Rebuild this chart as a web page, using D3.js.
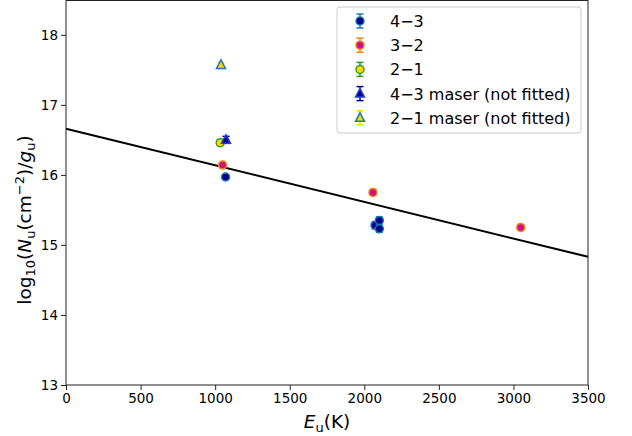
<!DOCTYPE html>
<html>
<head>
<meta charset="utf-8">
<script src="https://cdn.jsdelivr.net/npm/d3@7"></script>
<style>
  body { margin: 0; background: #fff; }
  text { font-family: "DejaVu Sans", sans-serif; }
</style>
</head>
<body>
<div id="chart"></div>
<script>
// rotational diagram data
var xTicks = [0, 500, 1000, 1500, 2000, 2500, 3000, 3500];
var yTicks = [13, 14, 15, 16, 17, 18];

var e43 = [1070, 2072, 2101, 2101];
var n43 = [15.97, 15.28, 15.35, 15.23];
var err43 = [0.03, 0.05, 0.05, 0.05];

var e32 = [1050, 2058, 3049];
var n32 = [16.14, 15.75, 15.25];
var err32 = [0.04, 0.04, 0.04];

var e21 = [1034];
var n21 = [16.46];
var err21 = [0.04];

var e43m = [1073];
var n43m = [16.50];
var err43m = [0.05];

var e21m = [1039];
var n21m = [17.57];
var err21m = [0.03];

// fitted line end points
var fitE = [0, 3500];
var fitN = [16.66, 14.83];

var svgWidth = 632;
var svgHeight = 436;
var margin = { top: 0.5, right: 44, bottom: 51, left: 66 };
var width = svgWidth - margin.left - margin.right;
var height = svgHeight - margin.top - margin.bottom;

var svg = d3.select("#chart")
  .append("svg")
  .attr("width", svgWidth)
  .attr("height", svgHeight);

var chartGroup = svg.append("g")
  .attr("transform", `translate(${margin.left}, ${margin.top})`);

var xScale = d3.scaleLinear().domain([0, 3500]).range([0, width]);
var yScale = d3.scaleLinear().domain([13, 18.49]).range([height, 0]);

// fit line
var fit = fitE.map((e, i) => [e, fitN[i]]);
chartGroup.append("path")
  .datum(fit)
  .attr("d", d3.line().x(d => xScale(d[0])).y(d => yScale(d[1])))
  .attr("stroke", "#000")
  .attr("stroke-width", 2)
  .attr("fill", "none");

var series = [
  { e: e43, n: n43, err: err43, shape: "circle", face: "#00008b", edge: "#1f77b4", ecol: "#1f77b4", label: "4\u22123" },
  { e: e32, n: n32, err: err32, shape: "circle", face: "#c71585", edge: "#ff7f0e", ecol: "#ff7f0e", label: "3\u22122" },
  { e: e21, n: n21, err: err21, shape: "circle", face: "#ffd700", edge: "#2ca02c", ecol: "#2ca02c", label: "2\u22121" },
  { e: e43m, n: n43m, err: err43m, shape: "triangle", face: "#00008b", edge: "#1f3fd0", ecol: "#00008b", label: "4\u22123 maser (not fitted)" },
  { e: e21m, n: n21m, err: err21m, shape: "triangle", face: "#ffd700", edge: "#1f77b4", ecol: "#ffd700", label: "2\u22121 maser (not fitted)" }
];

function drawMarker(g, x, y, yLo, yHi, s) {
  g.append("line").attr("x1", x).attr("x2", x).attr("y1", yLo).attr("y2", yHi)
    .attr("stroke", s.ecol).attr("stroke-width", 1.5);
  [yLo, yHi].forEach(function(yy) {
    g.append("line").attr("x1", x - 3.5).attr("x2", x + 3.5).attr("y1", yy).attr("y2", yy)
      .attr("stroke", s.ecol).attr("stroke-width", 1.5);
  });
  if (s.shape == "circle") {
    g.append("circle").attr("cx", x).attr("cy", y).attr("r", 4)
      .attr("fill", s.face).attr("stroke", s.edge).attr("stroke-width", 1.5);
  } else {
    var r = 5;
    g.append("path")
      .attr("d", `M${x},${y - r}L${x + r * 0.9},${y + r * 0.7}L${x - r * 0.9},${y + r * 0.7}Z`)
      .attr("fill", s.face).attr("stroke", s.edge).attr("stroke-width", 1.5);
  }
}

series.forEach(function(s) {
  var g = chartGroup.append("g");
  s.e.forEach(function(e, i) {
    drawMarker(g, xScale(e), yScale(s.n[i]), yScale(s.n[i] - s.err[i]), yScale(s.n[i] + s.err[i]), s);
  });
});

// axes
var xAxis = d3.axisBottom(xScale).tickValues(xTicks).tickFormat(d3.format("d")).tickSize(5).tickPadding(3);
var yAxis = d3.axisLeft(yScale).tickValues(yTicks).tickFormat(d3.format("d")).tickSize(5).tickPadding(3);

var gx = chartGroup.append("g")
  .attr("transform", `translate(0, ${height})`)
  .call(xAxis);
var gy = chartGroup.append("g").call(yAxis);

[gx, gy].forEach(function(g) {
  g.select(".domain").remove();
  g.selectAll("line").attr("stroke", "#222").attr("stroke-width", 1);
  g.selectAll("text").attr("font-size", 13.5).attr("fill", "#000")
    .attr("font-family", "DejaVu Sans");
});

chartGroup.append("rect")
  .attr("x", 0).attr("y", 0)
  .attr("width", width).attr("height", height)
  .attr("fill", "none").attr("stroke", "#222").attr("stroke-width", 1);

// axis labels
var xl = chartGroup.append("text")
  .attr("x", width / 2).attr("y", height + 43)
  .attr("text-anchor", "middle")
  .attr("font-size", 18.5);
xl.append("tspan").attr("font-style", "italic").text("E");
xl.append("tspan").attr("font-size", 13).attr("dy", 4).text("u");
xl.append("tspan").attr("dy", -4).text("(K)");

var yl = svg.append("text")
  .attr("transform", "translate(31, 220) rotate(-90)")
  .attr("text-anchor", "middle")
  .attr("font-size", 18.5);
yl.append("tspan").text("log");
yl.append("tspan").attr("font-size", 13).attr("dy", 4).text("10");
yl.append("tspan").attr("dy", -4).text("(");
yl.append("tspan").attr("font-style", "italic").text("N");
yl.append("tspan").attr("font-size", 13).attr("dy", 4).text("u");
yl.append("tspan").attr("dy", -4).text("(cm");
yl.append("tspan").attr("font-size", 13).attr("dy", -7).text("\u22122");
yl.append("tspan").attr("dy", 7).text(")/");
yl.append("tspan").attr("font-style", "italic").text("g");
yl.append("tspan").attr("font-size", 13).attr("dy", 4).text("u");
yl.append("tspan").attr("dy", -4).text(")");

// legend
var legend = svg.append("g").attr("transform", "translate(337, 7)");
legend.append("rect")
  .attr("width", 244).attr("height", 126)
  .attr("rx", 3)
  .attr("fill", "#fff").attr("fill-opacity", 0.8)
  .attr("stroke", "#ccc").attr("stroke-width", 1);

series.forEach(function(s, i) {
  var y = 14 + i * 24.2;
  drawMarker(legend, 23, y, y - 7, y + 7, s);
  legend.append("text")
    .attr("x", 53).attr("y", y + 6)
    .attr("font-size", 16)
    .text(s.label);
});
</script>
</body>
</html>
